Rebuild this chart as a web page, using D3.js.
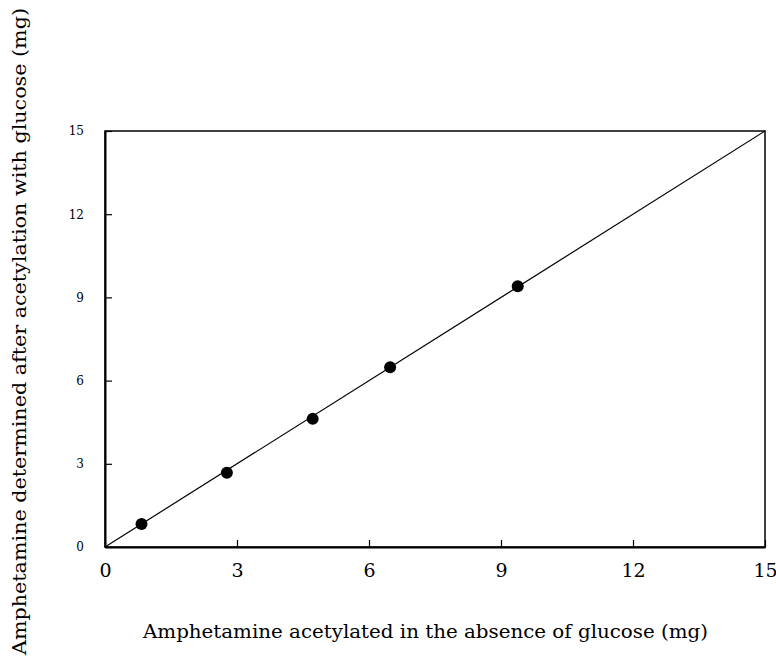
<!DOCTYPE html>
<html>
<head>
<meta charset="utf-8">
<script src="https://cdn.jsdelivr.net/npm/d3@7"></script>
<style>
  body { margin: 0; background: #fff; }
  text { font-family: "DejaVu Serif", "Liberation Serif", serif; fill: #000; }
</style>
</head>
<body>
<div id="plot"></div>
<script>
// Data
const xValues = [0.83, 2.77, 4.72, 6.48, 9.38];
const yValues = [0.83, 2.68, 4.62, 6.48, 9.40];
const lineX = [0, 15];
const lineY = [0, 15];
const tickValues = [0, 3, 6, 9, 12, 15];
const xTitle = "Amphetamine acetylated in the absence of glucose (mg)";
const yTitle = "Amphetamine determined after acetylation with glucose (mg)";

const width = 776;
const height = 662;
const marginTop = 131;
const marginRight = 11;
const marginBottom = 115;
const marginLeft = 105;

const x = d3.scaleLinear()
    .domain([0, 15])
    .range([marginLeft, width - marginRight]);

const y = d3.scaleLinear()
    .domain([0, 15])
    .range([height - marginBottom, marginTop]);

const svg = d3.select("#plot")
    .append("svg")
    .attr("width", width)
    .attr("height", height)
    .attr("viewBox", [0, 0, width, height]);

// Frame
svg.append("rect")
    .attr("x", x(0))
    .attr("y", y(15))
    .attr("width", x(15) - x(0))
    .attr("height", y(0) - y(15))
    .attr("fill", "none")
    .attr("stroke", "#000")
    .attr("stroke-width", 1.5);

// Bottom axis, ticks pointing inward
const xAxis = svg.append("g")
    .attr("transform", `translate(0,${y(0)})`)
    .call(d3.axisBottom(x).tickValues(tickValues).tickSizeInner(-7).tickSizeOuter(0).tickPadding(17))
    .call(g => g.select(".domain").attr("stroke-width", 2));

xAxis.selectAll("text")
    .style("font-size", "19px")
    .style("font-family", "DejaVu Serif");
xAxis.selectAll("line").attr("stroke-width", 1.2);

// Left axis, ticks pointing inward
const yAxis = svg.append("g")
    .attr("transform", `translate(${x(0)},0)`)
    .call(d3.axisLeft(y).tickValues(tickValues).tickSizeInner(-7).tickSizeOuter(0).tickPadding(21))
    .call(g => g.select(".domain").attr("stroke-width", 2));

yAxis.selectAll("text")
    .style("font-size", "12px")
    .style("font-family", "DejaVu Serif");
yAxis.selectAll("line").attr("stroke-width", 1.2);

// Identity line
const line = d3.line()
    .x(d => x(d[0]))
    .y(d => y(d[1]));

svg.append("path")
    .datum(d3.zip(lineX, lineY))
    .attr("fill", "none")
    .attr("stroke", "#000")
    .attr("stroke-width", 1.2)
    .attr("d", line);

// Points
svg.append("g")
    .selectAll("circle")
    .data(d3.zip(xValues, yValues))
    .join("circle")
    .attr("cx", d => x(d[0]))
    .attr("cy", d => y(d[1]))
    .attr("r", 6)
    .attr("fill", "#000");

// Axis titles
svg.append("text")
    .attr("x", 143)
    .attr("y", 638)
    .attr("textLength", 565)
    .attr("lengthAdjust", "spacingAndGlyphs")
    .style("font-size", "18px")
    .text(xTitle);

svg.append("text")
    .attr("transform", `translate(26,655) rotate(-90)`)
    .attr("textLength", 647)
    .attr("lengthAdjust", "spacingAndGlyphs")
    .style("font-size", "18px")
    .text(yTitle);
</script>
</body>
</html>
